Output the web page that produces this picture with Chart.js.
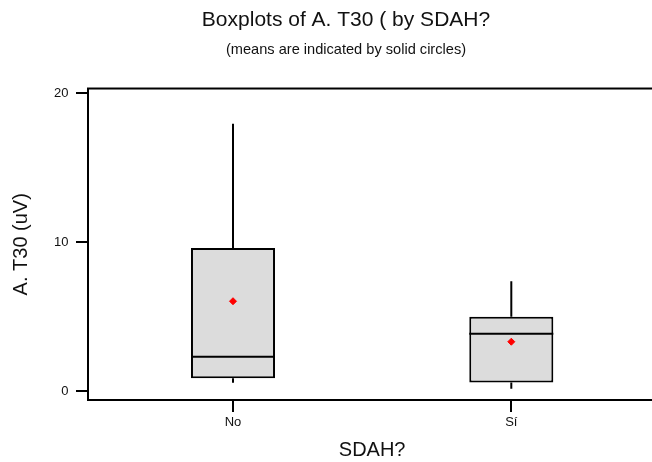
<!DOCTYPE html>
<html>
<head>
<meta charset="utf-8">
<script src="https://cdn.jsdelivr.net/npm/chart.js@4.4.1/dist/chart.umd.min.js"></script>
<style>
  html, body { margin: 0; padding: 0; background: #fff; overflow: hidden; }
  #wrap { width: 652px; height: 462px; overflow: hidden; }
</style>
</head>
<body>
<div id="wrap"><canvas id="myChart" width="692" height="462"></canvas></div>
<script>
// box statistics per group
var categories = ['No', 'Sí'];
var whiskerLow = [0.56, 0.15];
var q1 = [0.85, 0.58];
var medians = [2.30, 3.84];
var q3 = [9.61, 4.98];
var whiskerHigh = [17.95, 7.38];
var means = [6.03, 3.31];
var yTicks = [0, 10, 20];

var boxWidth = 0.302; // box width in category units
var fontFamily = '"Liberation Sans", Arial, sans-serif';
var textColor = '#111';

function boxData() {
  var out = [];
  for (var i = 0; i < categories.length; i++) {
    out.push({ x: i, y: [q1[i], q3[i]] });
  }
  return out;
}

function whiskerData() {
  var out = [];
  for (var i = 0; i < categories.length; i++) {
    out.push({ x: i, y: q3[i] }, { x: i, y: whiskerHigh[i] }, { x: i, y: null });
    out.push({ x: i, y: whiskerLow[i] }, { x: i, y: q1[i] }, { x: i, y: null });
  }
  return out;
}

function medianData() {
  var out = [];
  for (var i = 0; i < categories.length; i++) {
    out.push({ x: i - boxWidth / 2, y: medians[i] }, { x: i + boxWidth / 2, y: medians[i] }, { x: i, y: null });
  }
  return out;
}

function meanData() {
  var out = [];
  for (var i = 0; i < categories.length; i++) {
    out.push({ x: i, y: means[i] });
  }
  return out;
}

// black frame round the plot area, plus the tick marks under the x axis
const framePlugin = {
  id: 'frame',
  afterDraw: function (chart) {
    var a = chart.chartArea;
    var ctx = chart.ctx;
    var xs = chart.scales.x;
    var tl = xs.options.grid.tickLength || 12;
    // drop any state left over from earlier drawing
    ctx.restore();
    ctx.restore();
    ctx.save();
    ctx.setTransform(1, 0, 0, 1, 0, 0);
    ctx.globalAlpha = 1;
    ctx.globalCompositeOperation = 'source-over';
    ctx.setLineDash([]);
    ctx.strokeStyle = '#000';
    ctx.lineWidth = 2;
    ctx.strokeRect(a.left, a.top, a.right - a.left, a.bottom - a.top);
    for (var i = 0; i < xs.ticks.length; i++) {
      var px = Math.round(xs.getPixelForValue(xs.ticks[i].value));
      ctx.beginPath();
      ctx.moveTo(px, a.bottom);
      ctx.lineTo(px, a.bottom + tl);
      ctx.stroke();
    }
    ctx.restore();
  }
};

const config = {
  type: 'bar',
  data: {
    datasets: [{
      type: 'line',
      data: meanData(),
      showLine: false,
      pointStyle: 'rectRot',
      pointRadius: 3.5,
      pointBackgroundColor: '#ff0000',
      pointBorderColor: '#ff0000',
      pointBorderWidth: 1,
      order: 1
    }, {
      type: 'line',
      data: medianData(),
      borderColor: '#000',
      borderWidth: 2,
      pointRadius: 0,
      spanGaps: false,
      order: 2
    }, {
      type: 'line',
      data: whiskerData(),
      borderColor: '#000',
      borderWidth: 2,
      pointRadius: 0,
      spanGaps: false,
      order: 2
    }, {
      type: 'bar',
      data: boxData(),
      backgroundColor: '#dcdcdc',
      borderColor: '#000',
      borderWidth: 2,
      borderSkipped: false,
      barPercentage: 1,
      categoryPercentage: boxWidth,
      order: 3
    }]
  },
  options: {
    responsive: false,
    devicePixelRatio: 1,
    animation: false,
    layout: { padding: 0 },
    plugins: {
      legend: { display: false },
      tooltip: { enabled: false },
      title: {
        display: true,
        text: 'Boxplots of A. T30 ( by SDAH?',
        color: textColor,
        font: { family: fontFamily, size: 21, weight: 'normal', lineHeight: 1.2 },
        padding: { top: 7.4, bottom: 5 }
      },
      subtitle: {
        display: true,
        text: '(means are indicated by solid circles)',
        color: textColor,
        font: { family: fontFamily, size: 14.6, weight: 'normal', lineHeight: 1.2 },
        padding: { top: 3.6, bottom: 29.8 }
      }
    },
    scales: {
      x: {
        type: 'linear',
        offset: false,
        min: -0.521,
        max: 1.521,
        afterBuildTicks: function (scale) {
          scale.ticks = categories.map(function (c, i) { return { value: i }; });
        },
        afterFit: function (scale) { scale.height = 62; },
        ticks: {
          color: textColor,
          font: { family: fontFamily, size: 13 },
          padding: 3,
          maxRotation: 0,
          callback: function (v) { return categories[v]; }
        },
        grid: { offset: false, drawOnChartArea: false, drawTicks: true, tickLength: 12, color: '#000', lineWidth: 2 },
        border: { display: false },
        title: {
          display: true,
          text: 'SDAH?',
          color: textColor,
          font: { family: fontFamily, size: 20, lineHeight: 1.2 },
          padding: { top: 0, bottom: 0 }
        }
      },
      y: {
        type: 'linear',
        position: 'left',
        min: -0.603,
        max: 20.315,
        afterBuildTicks: function (scale) {
          scale.ticks = yTicks.map(function (v) { return { value: v }; });
        },
        afterFit: function (scale) { scale.width = 88; },
        ticks: {
          color: textColor,
          font: { family: fontFamily, size: 13 },
          padding: 7.5
        },
        grid: { drawOnChartArea: false, drawTicks: true, tickLength: 12, color: '#000', lineWidth: 2 },
        border: { display: false },
        title: {
          display: true,
          text: 'A. T30 (uV)',
          color: textColor,
          font: { family: fontFamily, size: 20, lineHeight: 1.2 },
          padding: { top: 9.5, bottom: 0 }
        }
      },
      // empty axis that only holds the space right of the plot
      yRight: {
        type: 'linear',
        position: 'right',
        afterFit: function (scale) { scale.width = 35.7; },
        ticks: { display: false },
        grid: { display: false },
        border: { display: false }
      }
    }
  },
  plugins: [framePlugin]
};

const myChart = new Chart(document.getElementById('myChart'), config);
</script>
</body>
</html>
